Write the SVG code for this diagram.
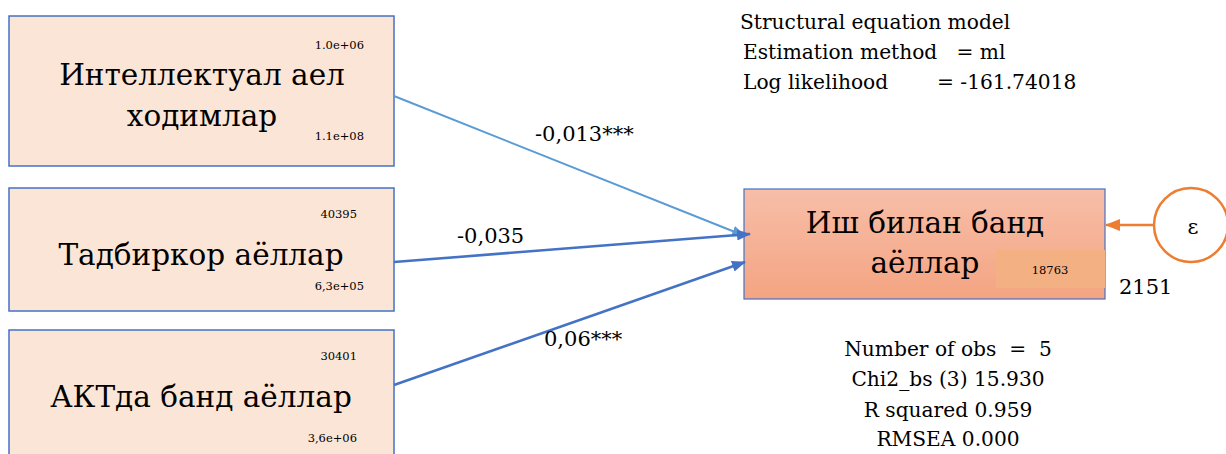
<svg xmlns="http://www.w3.org/2000/svg" width="1226" height="454" viewBox="0 0 1226 454" font-family="DejaVu Serif, serif">
<style>
.t{fill:#000}
.big{font-size:29.5px}
.sm{font-size:11.5px}
.lbl{font-size:21px}
.info{font-size:20.2px}
.src{fill:#FBE5D6;stroke:#4472C4;stroke-width:1.5}
</style>
<defs>
<linearGradient id="g" x1="0" y1="0" x2="0" y2="1">
<stop offset="0" stop-color="#F7BEA8"/>
<stop offset="1" stop-color="#F4A482"/>
</linearGradient>
<marker id="ab" markerWidth="14" markerHeight="11" refX="13" refY="5.5" orient="auto" markerUnits="userSpaceOnUse" viewBox="0 0 14 11"><path d="M0,0 L14,5.5 L0,11 z" fill="#4472C4"/></marker>
<marker id="al" markerWidth="14" markerHeight="11" refX="13" refY="5.5" orient="auto" markerUnits="userSpaceOnUse" viewBox="0 0 14 11"><path d="M0,0 L14,5.5 L0,11 z" fill="#5B9BD5"/></marker>
<marker id="ao" markerWidth="15" markerHeight="12" refX="14" refY="6" orient="auto" markerUnits="userSpaceOnUse" viewBox="0 0 15 12"><path d="M0,0 L15,6 L0,12 z" fill="#ED7D31"/></marker>
</defs>
<rect width="1226" height="454" fill="#fff"/>
<g id="n1">
<rect class="src" x="9" y="16" width="385" height="150"/>
<text class="t big" x="202" y="85" text-anchor="middle">Интеллектуал аел</text>
<text class="t big" x="202" y="126" text-anchor="middle">ходимлар</text>
<text class="t sm" x="364" y="49" text-anchor="end">1.0e+06</text>
<text class="t sm" x="364" y="140" text-anchor="end">1.1e+08</text>
</g>
<g id="n2">
<rect class="src" x="9" y="188" width="385" height="123"/>
<text class="t big" x="201" y="265" text-anchor="middle">Тадбиркор аёллар</text>
<text class="t sm" x="357" y="218" text-anchor="end">40395</text>
<text class="t sm" x="364" y="290" text-anchor="end">6,3e+05</text>
</g>
<g id="n3">
<rect class="src" x="9" y="330" width="385" height="140"/>
<text class="t big" x="201" y="407" text-anchor="middle">АКТда банд аёллар</text>
<text class="t sm" x="357" y="360" text-anchor="end">30401</text>
<text class="t sm" x="357" y="442" text-anchor="end">3,6e+06</text>
</g>
<g id="target">
<rect x="744" y="189" width="361" height="110" fill="url(#g)" stroke="#4472C4" stroke-width="1.2"/>
<rect x="996" y="250" width="109" height="38" fill="#F3B083"/>
<text class="t big" x="925" y="233" text-anchor="middle">Иш билан банд</text>
<text class="t big" x="925" y="273" text-anchor="middle">аёллар</text>
<text class="t sm" x="1050" y="274" text-anchor="middle">18763</text>
<text class="t lbl" x="1119" y="294">2151</text>
</g>
<g id="err">
<circle cx="1191" cy="225" r="37" fill="#fff" stroke="#ED7D31" stroke-width="2.5"/>
<text class="t lbl" x="1193" y="234" text-anchor="middle">ε</text>
</g>
<g id="connectors">
<line x1="394" y1="96" x2="745" y2="236" stroke="#5B9BD5" stroke-width="2" marker-end="url(#al)"/>
<line x1="394" y1="262" x2="750" y2="234" stroke="#4472C4" stroke-width="2.5" marker-end="url(#ab)"/>
<line x1="394" y1="385" x2="745" y2="262" stroke="#4472C4" stroke-width="2.5" marker-end="url(#ab)"/>
<line x1="1154" y1="225" x2="1106" y2="225" stroke="#ED7D31" stroke-width="2.5" marker-end="url(#ao)"/>
<text class="t lbl" x="535" y="141">-0,013***</text>
<text class="t lbl" x="457" y="243">-0,035</text>
<text class="t lbl" x="544" y="346">0,06***</text>
</g>
<g id="info">
<text class="t info" x="740" y="29">Structural equation model</text>
<text class="t info" x="743" y="59" xml:space="preserve">Estimation method   = ml</text>
<text class="t info" x="743" y="89">Log likelihood</text>
<text class="t info" x="937" y="89">= -161.74018</text>
<text class="t info" x="948" y="356" text-anchor="middle" xml:space="preserve">Number of obs  =  5</text>
<text class="t info" x="948" y="386" text-anchor="middle">Chi2_bs (3) 15.930</text>
<text class="t info" x="948" y="417" text-anchor="middle">R squared 0.959</text>
<text class="t info" x="948" y="446" text-anchor="middle">RMSEA 0.000</text>
</g>
</svg>
